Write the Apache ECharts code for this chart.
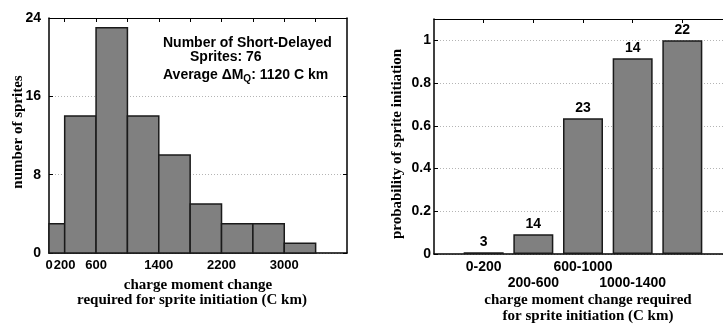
<!DOCTYPE html>
<html><head><meta charset="utf-8">
<script src="https://cdn.jsdelivr.net/npm/echarts@6/dist/echarts.min.js"></script>
<style>html,body{margin:0;padding:0;background:#fff}#c{width:723px;height:324px}</style>
</head><body><div id="c"></div>
<script>
// Histogram: charge moment change (C km) of short-delayed sprites
const binEdges = [0, 200, 600, 1000, 1400, 1800, 2200, 2600, 3000, 3400];
const binCounts = [3, 14, 23, 14, 10, 5, 3, 3, 1];
const histTickLabels = [0, 200, 600, 1400, 2200, 3000];

// Probability of sprite initiation per charge moment range
const rangeLabels = ['0-200', '200-600', '600-1000', '1000-1400', '>1400'];
const rangeProbability = [0.008, 0.093, 0.635, 0.916, 1.0];
const rangeSpriteCounts = [3, 14, 23, 14, 22];
const probTickLabels = [0, 0.2, 0.4, 0.6, 0.8, 1];

const SANS = '"Liberation Sans", Arial, Helvetica, sans-serif';
const SERIF = '"Liberation Serif", "Times New Roman", serif';
const BAR_FILL = '#808080';
const BAR_EDGE = '#1a1a1a';

const histData = binCounts.map((n, i) => [binEdges[i], binEdges[i + 1], n]);
const rangePositions = rangeLabels.map((_, i) => i + 1);

const tickLabel = (size) => ({ color: '#000', fontFamily: SANS, fontWeight: 'bold', fontSize: size, formatter: v => String(v) });
const gridLine = { type: [1, 2], color: '#b4b4b4', width: 1 };
const frame = w => ({ show: true, onZero: false, lineStyle: { color: '#000', width: w } });
const inTicks = vals => {
  const t = { show: true, inside: true, length: 4, lineStyle: { color: '#000', width: 1 } };
  if (vals) t.customValues = vals;
  return t;
};

const chart = echarts.init(document.getElementById('c'), null, { renderer: 'canvas' });
chart.setOption({
  animation: false,
  backgroundColor: '#fff',
  grid: [
    { left: 49, top: 18, right: 376, bottom: 71, outerBoundsMode: 'none', containLabel: false },
    { left: 434, top: 19, right: -9, bottom: 70, outerBoundsMode: 'none', containLabel: false }
  ],
  xAxis: [
    {
      gridIndex: 0, type: 'value', position: 'bottom', min: 0, max: 3800,
      axisLine: frame(1.5),
      axisTick: inTicks(binEdges.slice(1)),
      axisLabel: Object.assign(tickLabel(13), { margin: 6, customValues: histTickLabels }),
      splitLine: { show: false }
    },
    {
      gridIndex: 0, type: 'value', position: 'top', min: 0, max: 3800,
      axisLine: frame(1),
      axisTick: inTicks(binEdges.slice(1)),
      axisLabel: { show: false },
      splitLine: { show: false }
    },
    {
      gridIndex: 1, type: 'value', position: 'bottom', min: 0, max: 6,
      axisLine: frame(1.5),
      axisTick: { show: false },
      axisLabel: Object.assign(tickLabel(14), {
        margin: 5, lineHeight: 16, customValues: rangePositions,
        formatter: v => {
          const i = Math.round(v) - 1;
          return i % 2 === 1 ? '\n' + rangeLabels[i] : rangeLabels[i];
        }
      }),
      splitLine: { show: false }
    },
    {
      gridIndex: 1, type: 'value', position: 'top', min: 0, max: 6,
      axisLine: frame(1),
      axisTick: inTicks(rangePositions),
      axisLabel: { show: false },
      splitLine: { show: false }
    }
  ],
  yAxis: [
    {
      gridIndex: 0, type: 'value', position: 'left', min: 0, max: 24, interval: 8,
      axisLine: frame(1.5),
      axisTick: inTicks(),
      axisLabel: Object.assign(tickLabel(14), { margin: 8 }),
      splitLine: { show: true, lineStyle: gridLine }
    },
    {
      gridIndex: 0, type: 'value', position: 'right', min: 0, max: 24, interval: 8,
      axisLine: frame(1.5),
      axisTick: inTicks(),
      axisLabel: { show: false },
      splitLine: { show: false }
    },
    {
      gridIndex: 1, type: 'value', position: 'left', min: 0, max: 1.1, interval: 0.2,
      axisLine: frame(1.5),
      axisTick: inTicks(probTickLabels),
      axisLabel: Object.assign(tickLabel(14), { margin: 3, customValues: probTickLabels }),
      splitLine: { show: true, lineStyle: gridLine }
    }
  ],
  series: [
    {
      type: 'custom', xAxisIndex: 0, yAxisIndex: 0,
      data: histData,
      encode: { x: [0, 1], y: 2 },
      renderItem: (params, api) => {
        const topLeft = api.coord([api.value(0), api.value(2)]);
        const bottomRight = api.coord([api.value(1), 0]);
        return {
          type: 'rect',
          shape: { x: topLeft[0], y: topLeft[1], width: bottomRight[0] - topLeft[0], height: bottomRight[1] - topLeft[1] },
          style: { fill: BAR_FILL, stroke: BAR_EDGE, lineWidth: 1.5 }
        };
      },
      z: 3
    },
    {
      type: 'bar', xAxisIndex: 2, yAxisIndex: 2,
      data: rangeProbability.map((p, i) => [rangePositions[i], p]),
      barWidth: 40,
      itemStyle: { color: BAR_FILL, borderColor: BAR_EDGE, borderWidth: 1.5 },
      label: {
        show: true, position: 'top', distance: 3,
        color: '#000', fontFamily: SANS, fontWeight: 'bold', fontSize: 14,
        formatter: p => String(rangeSpriteCounts[p.dataIndex])
      },
      z: 3
    }
  ],
  graphic: [
    { type: 'text', x: 18, y: 132, rotation: Math.PI / 2,
      style: { text: 'number of sprites', fill: '#000', font: 'bold 15px ' + SERIF, align: 'center', verticalAlign: 'middle' } },
    { type: 'text', x: 198, y: 285,
      style: { text: 'charge moment change', fill: '#000', font: 'bold 15px ' + SERIF, align: 'center', verticalAlign: 'middle' } },
    { type: 'text', x: 192, y: 300,
      style: { text: 'required for sprite initiation (C km)', fill: '#000', font: 'bold 15px ' + SERIF, align: 'center', verticalAlign: 'middle' } },
    { type: 'text', x: 397, y: 144, rotation: Math.PI / 2,
      style: { text: 'probability of sprite initiation', fill: '#000', font: 'bold 15px ' + SERIF, align: 'center', verticalAlign: 'middle' } },
    { type: 'text', x: 588, y: 300,
      style: { text: 'charge moment change required', fill: '#000', font: 'bold 15px ' + SERIF, align: 'center', verticalAlign: 'middle' } },
    { type: 'text', x: 588, y: 316,
      style: { text: 'for sprite initiation (C km)', fill: '#000', font: 'bold 15px ' + SERIF, align: 'center', verticalAlign: 'middle' } },
    { type: 'text', x: 163, y: 43, z: 10,
      style: { text: 'Number of Short-Delayed', fill: '#000', font: 'bold 14px ' + SANS, align: 'left', verticalAlign: 'middle' } },
    { type: 'text', x: 190, y: 57, z: 10,
      style: { text: 'Sprites: 76', fill: '#000', font: 'bold 14px ' + SANS, align: 'left', verticalAlign: 'middle' } },
    { type: 'text', x: 163, y: 75, z: 10,
      style: {
        text: '{a|Average ΔM}{s|Q}{a|: 1120 C km}', align: 'left', verticalAlign: 'middle',
        rich: {
          a: { fill: '#000', fontFamily: SANS, fontWeight: 'bold', fontSize: 14, lineHeight: 18 },
          s: { fill: '#000', fontFamily: SANS, fontWeight: 'bold', fontSize: 10, lineHeight: 18, verticalAlign: 'bottom', padding: [6, 0, 0, 0] }
        }
      } }
  ]
});
</script>
</body></html>
